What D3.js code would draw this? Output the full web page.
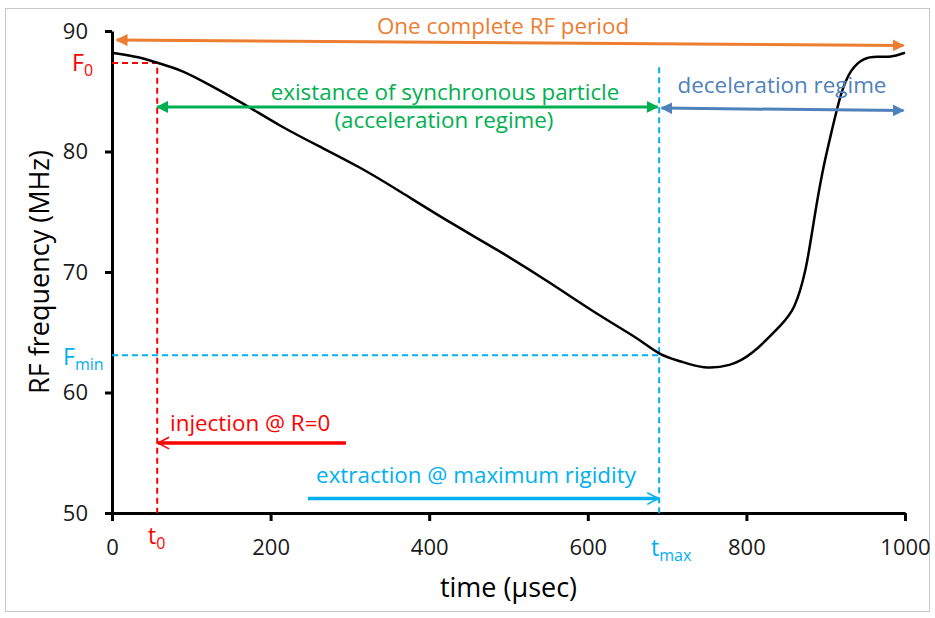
<!DOCTYPE html>
<html>

<head>
    <script src="https://d3js.org/d3.v7.min.js"></script>
    <style>
        body {
            margin: 0;
            background-color: #ffffff;
            font-family: 'Open Sans', sans-serif;
        }
    </style>
    <title>RF frequency</title>
</head>

<body>
    <svg id="chart" width="935" height="618"></svg>

    <script>
        // curve (time in usec, frequency in MHz)
        var times = [0, 35, 57, 87, 124, 168, 212, 262, 313, 363, 426, 490, 553, 616, 666, 690, 717, 746, 780, 805, 847, 860, 875, 885, 896, 908, 919, 931, 948, 965, 982, 1000];
        var freqs = [88.2, 87.85, 87.35, 86.8, 85.5, 83.9, 82.1, 80.4, 78.7, 76.7, 74.1, 71.7, 69.1, 66.3, 64.4, 63.1, 62.6, 61.95, 62.2, 63.0, 65.8, 66.8, 69.9, 74.3, 78.5, 81.8, 84.9, 86.8, 87.8, 87.9, 87.8, 88.2];
        var xTicks = [0, 200, 400, 600, 800, 1000];
        var yTicks = [50, 60, 70, 80, 90];

        // marked points
        var t0 = 57, F0 = 87.35;
        var tMax = 690, Fmin = 63.1;

        var canvas = d3.select("#chart");

        // grey frame around the picture
        canvas.append("rect")
            .attr("x", 5.5).attr("y", 8.5)
            .attr("width", 924).attr("height", 603)
            .attr("fill", "none")
            .attr("stroke", "#c8c8c8")
            .attr("stroke-width", 1);

        var xScale = d3.scaleLinear().domain([0, 1000]).range([112, 905]);
        var yScale = d3.scaleLinear().domain([50, 90]).range([513, 31]);

        var defs = canvas.append("defs");
        function filledHead(id, color) {
            defs.append("marker")
                .attr("id", id)
                .attr("viewBox", "0 0 10 10")
                .attr("refX", 9).attr("refY", 5)
                .attr("markerWidth", 4).attr("markerHeight", 4)
                .attr("orient", "auto-start-reverse")
                .append("path")
                .attr("d", "M0,0 L10,5 L0,10 Z")
                .attr("fill", color);
        }
        function openHead(id, color) {
            defs.append("marker")
                .attr("id", id)
                .attr("viewBox", "0 0 12 12")
                .attr("refX", 10.5).attr("refY", 6)
                .attr("markerWidth", 4).attr("markerHeight", 4)
                .attr("markerUnits", "strokeWidth")
                .attr("orient", "auto-start-reverse")
                .append("path")
                .attr("d", "M1,1 L10.5,6 L1,11")
                .attr("fill", "none")
                .attr("stroke", color)
                .attr("stroke-width", 1.3);
        }
        filledHead("orangeHead", "#ED7D31");
        filledHead("greenHead", "#00B050");
        filledHead("blueHead", "#4F81BD");
        openHead("redHead", "#FF0000");
        openHead("cyanHead", "#00B0F0");

        // axes
        var xAxis = d3.axisBottom(xScale).tickValues(xTicks).tickFormat(d3.format("d"))
            .tickSize(8).tickSizeOuter(0).tickPadding(18);
        var yAxis = d3.axisLeft(yScale).tickValues(yTicks).tickSize(7).tickSizeOuter(0).tickPadding(17);

        var gx = canvas.append("g")
            .attr("transform", "translate(0," + yScale(50) + ")")
            .call(xAxis);
        var gy = canvas.append("g")
            .attr("transform", "translate(" + xScale(0) + ",0)")
            .call(yAxis);

        canvas.selectAll(".domain, .tick line")
            .style("stroke", "#000")
            .style("stroke-width", "3px");
        canvas.selectAll(".tick text")
            .style("font-family", "Open Sans")
            .style("font-size", "22px")
            .style("fill", "#1a1a1a");

        canvas.append("text")
            .attr("transform", "translate(49," + ((yScale(50) + yScale(90)) / 2) + ") rotate(-90)")
            .attr("text-anchor", "middle")
            .style("font-size", "27px")
            .style("fill", "#000")
            .text("RF frequency (MHz)");

        canvas.append("text")
            .attr("x", (xScale(0) + xScale(1000)) / 2)
            .attr("y", 597)
            .attr("text-anchor", "middle")
            .style("font-size", "27px")
            .style("fill", "#000")
            .text("time (\u03bcsec)");

        // dashed guides
        canvas.append("path")
            .attr("d", "M" + xScale(0) + "," + yScale(F0) + " H" + xScale(t0) + " V" + yScale(50))
            .attr("fill", "none")
            .attr("stroke", "#FF0000")
            .attr("stroke-width", 2)
            .attr("stroke-dasharray", "6,4");

        canvas.append("line")
            .attr("x1", xScale(0)).attr("x2", xScale(tMax))
            .attr("y1", yScale(Fmin)).attr("y2", yScale(Fmin))
            .attr("stroke", "#00B0F0")
            .attr("stroke-width", 2)
            .attr("stroke-dasharray", "6,4");
        canvas.append("line")
            .attr("x1", xScale(tMax)).attr("x2", xScale(tMax))
            .attr("y1", yScale(87.0)).attr("y2", yScale(49.8))
            .attr("stroke", "#00B0F0")
            .attr("stroke-width", 2)
            .attr("stroke-dasharray", "6,4");

        // the RF curve
        var points = times.map(function (t, i) { return [t, freqs[i]]; });
        canvas.append("path")
            .datum(points)
            .attr("fill", "none")
            .attr("stroke", "#000")
            .attr("stroke-width", 2.5)
            .attr("d", d3.line()
                .x(function (d) { return xScale(d[0]); })
                .y(function (d) { return yScale(d[1]); })
                .curve(d3.curveBasis));

        // arrows
        function arrow(x1, y1, x2, y2, color, width, startHead, endHead) {
            var l = canvas.append("line")
                .attr("x1", xScale(x1)).attr("y1", yScale(y1))
                .attr("x2", xScale(x2)).attr("y2", yScale(y2))
                .attr("stroke", color)
                .attr("stroke-width", width);
            if (startHead) l.attr("marker-start", "url(#" + startHead + ")");
            if (endHead) l.attr("marker-end", "url(#" + endHead + ")");
        }
        arrow(6, 89.25, 998, 88.8, "#ED7D31", 3, "orangeHead", "orangeHead");
        arrow(t0, 83.7, tMax - 2, 83.7, "#00B050", 3, "greenHead", "greenHead");
        arrow(tMax + 3, 83.6, 998, 83.4, "#4F81BD", 3, "blueHead", "blueHead");
        arrow(295, 55.8, t0 + 1, 55.8, "#FF0000", 3.5, null, "redHead");
        arrow(247, 51.2, tMax - 1, 51.2, "#00B0F0", 3.5, null, "cyanHead");

        // labels
        function label(x, y, txt, color, anchor) {
            canvas.append("text")
                .attr("x", x).attr("y", y)
                .attr("text-anchor", anchor || "middle")
                .style("font-size", "22.4px")
                .style("fill", color)
                .text(txt);
        }
        label(503, 34, "One complete RF period", "#ED7D31");
        label(445, 100, "existance of synchronous particle", "#00B050");
        label(444, 128, "(acceleration regime)", "#00B050");
        label(782, 93, "deceleration regime", "#4F81BD");
        label(170, 431, "injection @ R=0", "#FF0000", "start");
        label(476, 483, "extraction @ maximum rigidity", "#00B0F0");

        function subLabel(x, y, main, sub, color) {
            var t = canvas.append("text")
                .attr("x", x).attr("y", y)
                .style("font-size", "23px")
                .style("fill", color);
            t.append("tspan").text(main);
            t.append("tspan").attr("dy", 5).style("font-size", "16px").text(sub);
        }
        subLabel(72, 71, "F", "0", "#FF0000");
        subLabel(63, 365, "F", "min", "#00B0F0");
        subLabel(148, 544, "t", "0", "#FF0000");
        subLabel(651, 556, "t", "max", "#00B0F0");
    </script>
</body>
</html>
